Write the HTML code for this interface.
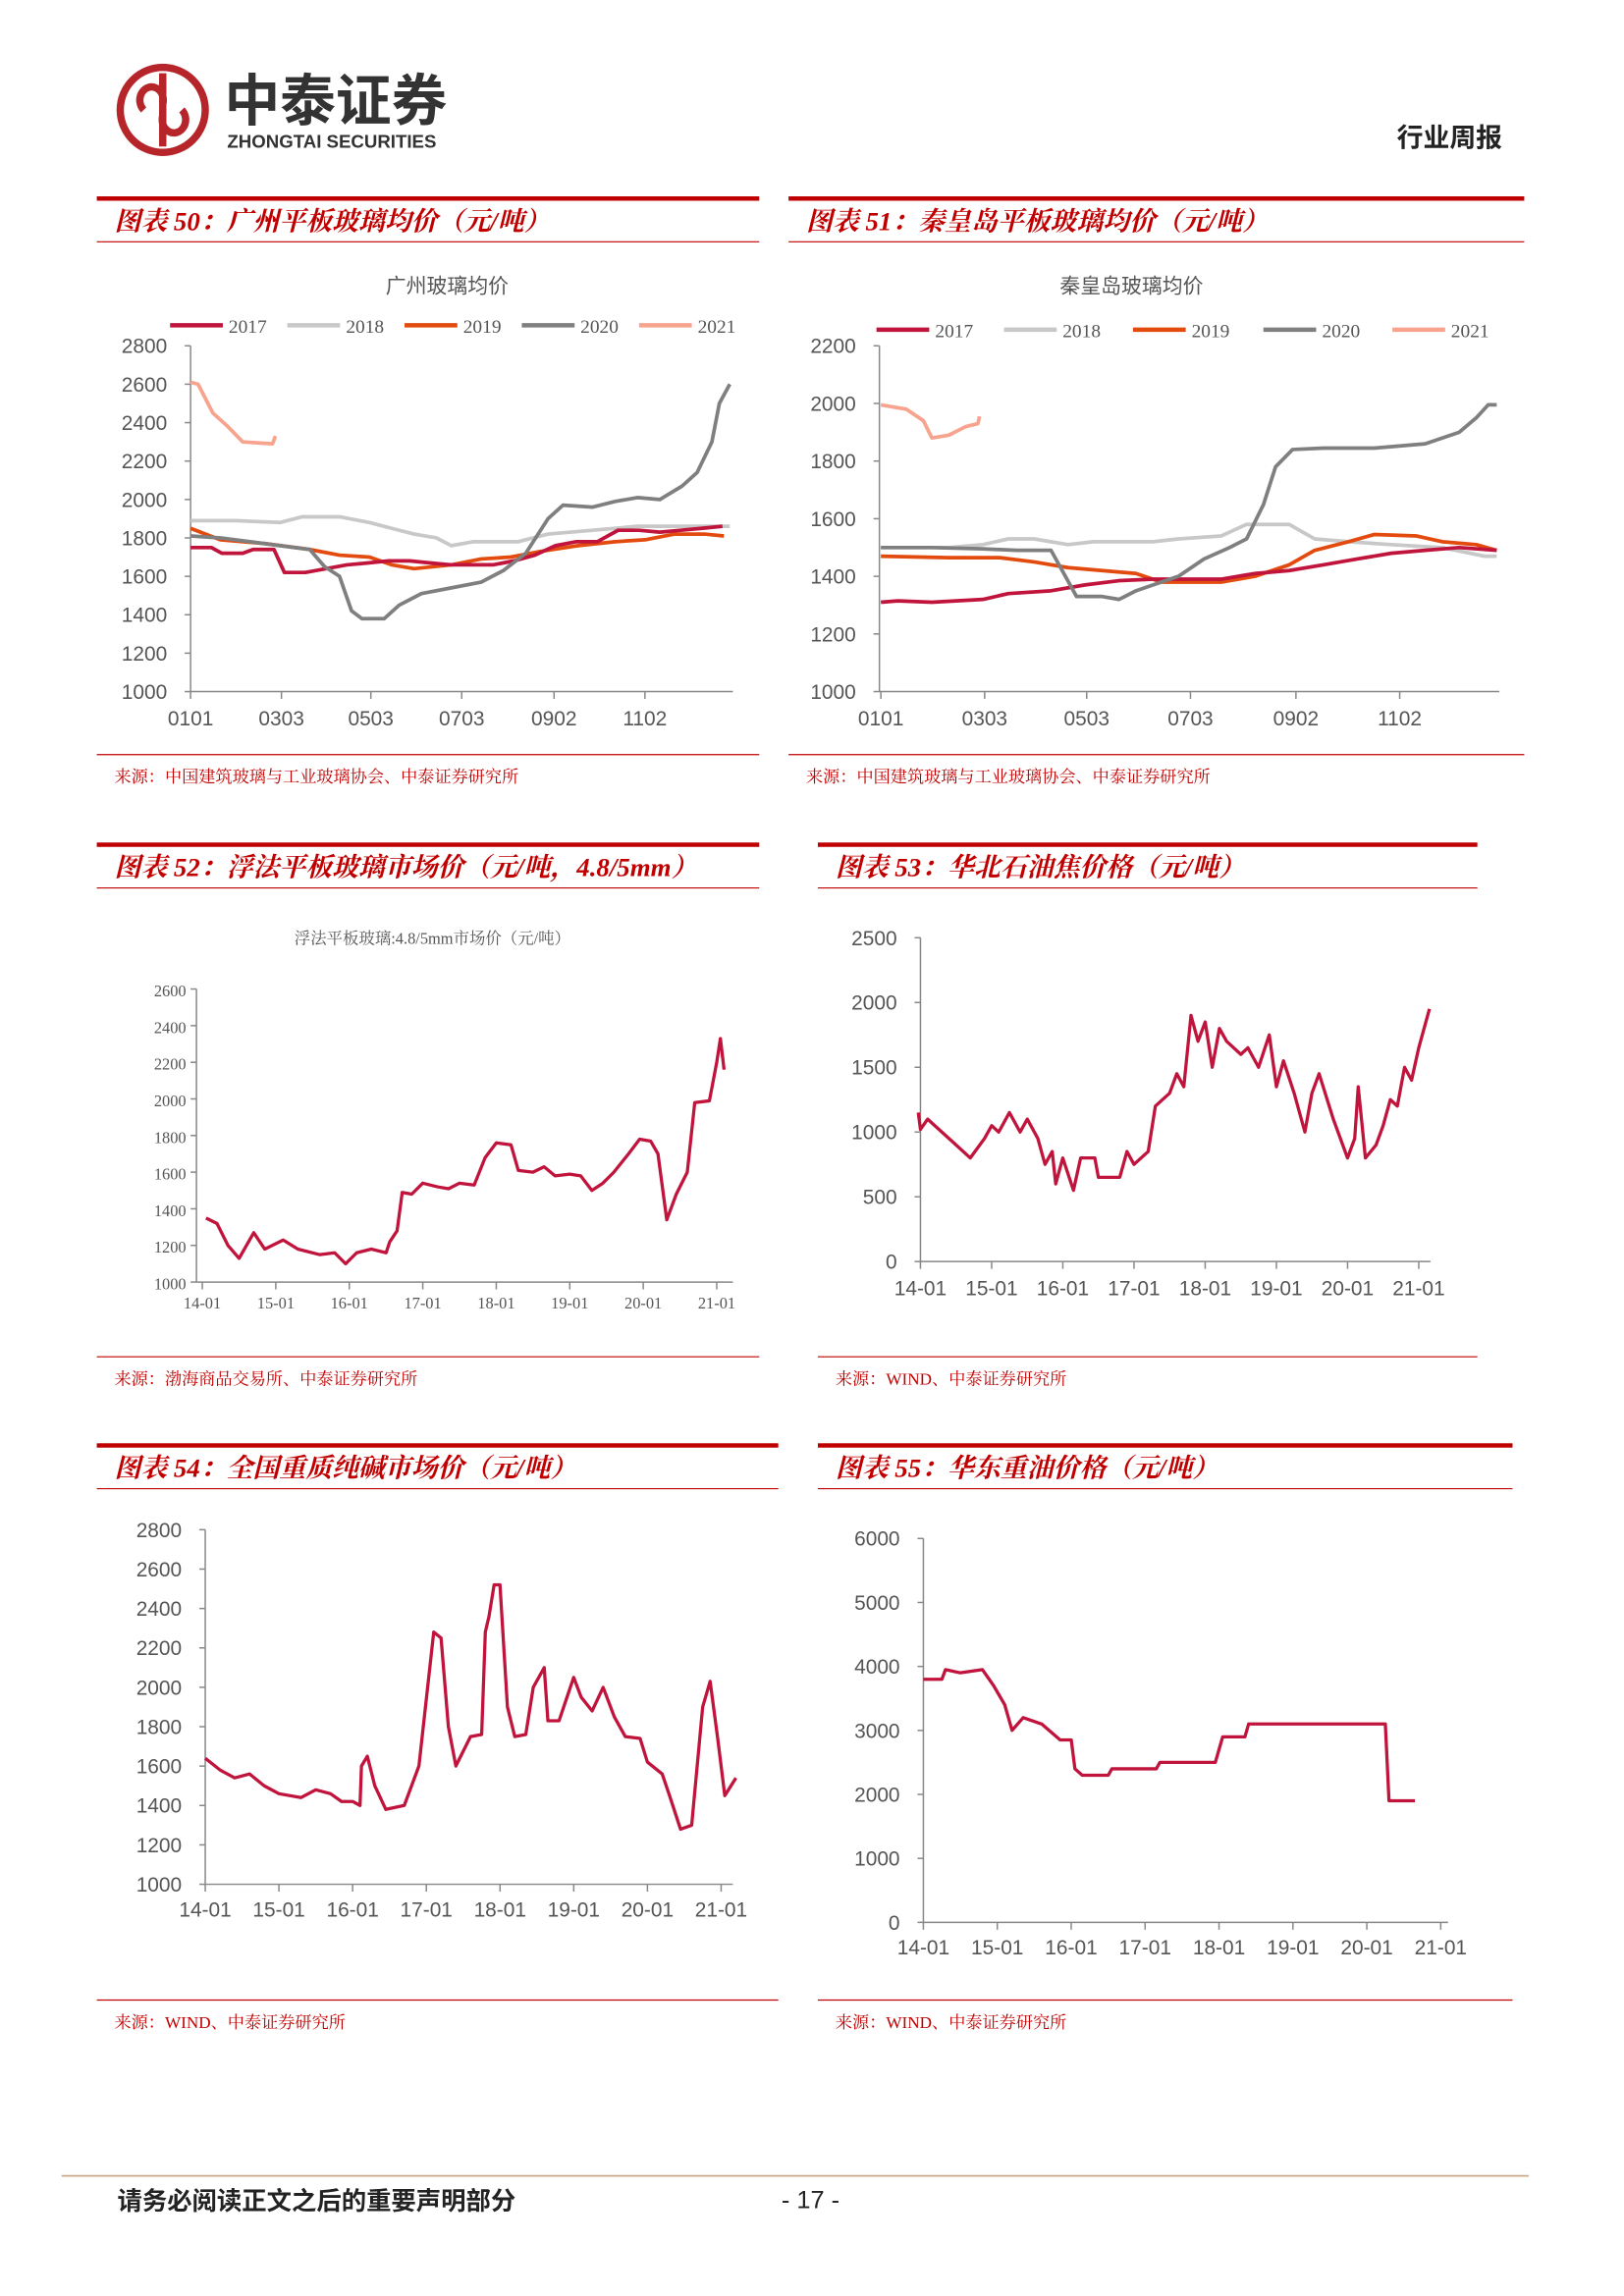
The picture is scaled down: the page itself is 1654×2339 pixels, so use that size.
<!DOCTYPE html>
<html><head><meta charset="utf-8"><style>
html,body{margin:0;padding:0;background:#fff}
svg{display:block}
text{font-family:"Liberation Sans","Noto Sans CJK SC",sans-serif}
.t{font-family:"Liberation Serif","Noto Serif CJK SC",serif;font-style:italic;font-weight:bold;fill:#c00000;font-size:18px}
.src{font-family:"Liberation Serif","Noto Serif CJK SC",serif;fill:#c00000;font-size:11.5px}
.tk{fill:#555;font-size:14px}
.tks{fill:#555;font-size:11px;font-family:"Liberation Serif","Noto Serif CJK SC",serif}
.lg{fill:#555;font-size:13px;font-family:"Liberation Serif","Noto Serif CJK SC",serif}
</style></head><body>
<svg id="page" width="1654" height="2339" viewBox="0 0 1108 1567" xmlns="http://www.w3.org/2000/svg">
<g>
<circle cx="111" cy="75" r="29" fill="none" stroke="#b5252a" stroke-width="5"/>
<path d="M111 50 V100 M98 75 a8 9 0 1 1 13 -4 M124 75 a8 9 0 1 1 -13 4" fill="none" stroke="#b5252a" stroke-width="5"/>
<text x="153" y="82" font-size="38" font-weight="bold" fill="#333">中泰证券</text>
<text x="155" y="101" font-size="12.5" font-weight="bold" fill="#333">ZHONGTAI SECURITIES</text>
</g>
<text x="1025" y="100" text-anchor="end" font-size="18" font-weight="bold" fill="#222">行业周报</text>
<g id="charts"></g>
<line x1="42" y1="1485" x2="1043" y2="1485" stroke="#c9a98a" stroke-width="1.2"/>
<text x="80" y="1508" font-size="17" font-weight="bold" fill="#222">请务必阅读正文之后的重要声明部分</text>
<text x="553" y="1507" font-size="17" fill="#222" text-anchor="middle">- 17 -</text>
</svg>
<script>
// ---- Chart 50 data (Guangzhou) ----
const gz17d=[0,14,21,35,42,56,63,77,91,105,119,133,147,161,175,189,203,217,231,245,259,273,287,301,315,329,343,357];
const gz17v=[1750,1750,1720,1720,1740,1740,1620,1620,1640,1660,1670,1680,1680,1670,1660,1660,1660,1680,1710,1760,1780,1780,1840,1840,1830,1840,1850,1860];
const gz18d=[0,30,60,75,100,120,135,150,165,175,190,220,240,270,300,330,362];
const gz18v=[1890,1890,1880,1910,1910,1880,1850,1820,1800,1760,1780,1780,1820,1840,1860,1860,1860];
const gz19d=[0,10,20,50,80,100,120,135,150,175,195,215,235,260,285,305,325,345,358];
const gz19v=[1850,1820,1790,1770,1740,1710,1700,1660,1640,1660,1690,1700,1730,1760,1780,1790,1820,1820,1810];
const gz20d=[0,20,40,60,80,90,100,108,115,130,140,155,175,195,210,225,240,250,270,285,300,315,330,340,350,355,362];
const gz20v=[1810,1800,1780,1760,1740,1650,1600,1420,1380,1380,1450,1510,1540,1570,1630,1720,1900,1970,1960,1990,2010,2000,2070,2140,2300,2500,2600];
const gz21d=[0,5,15,25,35,55,57];
const gz21v=[2610,2600,2450,2380,2300,2290,2330];
// ---- Chart 51 data (Qinhuangdao) ----
const qh17d=[0,10,30,60,75,100,120,140,160,180,200,220,240,260,280,300,320,340,362];
const qh17v=[1310,1315,1310,1320,1340,1350,1370,1385,1390,1390,1390,1410,1420,1440,1460,1480,1490,1500,1490];
const qh18d=[0,20,40,60,75,90,110,125,140,160,175,200,215,240,255,275,300,330,355,362];
const qh18v=[1500,1500,1500,1510,1530,1530,1510,1520,1520,1520,1530,1540,1580,1580,1530,1520,1510,1500,1470,1470];
const qh19d=[0,40,70,90,110,130,150,165,180,200,220,240,255,275,290,315,330,350,362];
const qh19v=[1470,1465,1465,1450,1430,1420,1410,1380,1380,1380,1400,1440,1490,1520,1545,1540,1520,1510,1490];
const qh20d=[0,30,60,80,100,115,130,140,150,160,175,190,205,215,225,232,242,260,290,320,340,350,357,362];
const qh20v=[1500,1500,1495,1490,1490,1330,1330,1320,1350,1370,1400,1460,1500,1530,1650,1780,1840,1845,1845,1860,1900,1950,1995,1995];
const qh21d=[0,5,15,25,30,40,50,57,58];
const qh21v=[1995,1990,1980,1940,1880,1890,1920,1930,1955];
// ---- Chart 52 (float glass) ----
const fgT=[2014.05,2014.2,2014.35,2014.5,2014.7,2014.85,2015.1,2015.3,2015.6,2015.8,2015.95,2016.1,2016.3,2016.5,2016.55,2016.65,2016.72,2016.85,2017.0,2017.2,2017.35,2017.5,2017.7,2017.85,2018.0,2018.2,2018.3,2018.5,2018.65,2018.8,2019.0,2019.15,2019.3,2019.45,2019.6,2019.8,2019.95,2020.1,2020.2,2020.32,2020.45,2020.6,2020.7,2020.9,2021.0,2021.05,2021.1];
const fgV=[1350,1320,1200,1130,1270,1180,1230,1180,1150,1160,1100,1160,1180,1160,1220,1280,1490,1480,1540,1520,1510,1540,1530,1680,1760,1750,1610,1600,1630,1580,1590,1580,1500,1540,1600,1700,1780,1770,1700,1340,1480,1600,1980,1990,2200,2330,2160];
// ---- Chart 53 (petroleum coke) ----
const pcT=[2013.97,2014.0,2014.1,2014.3,2014.5,2014.7,2014.9,2015.0,2015.1,2015.25,2015.4,2015.5,2015.65,2015.75,2015.85,2015.9,2016.0,2016.15,2016.25,2016.45,2016.5,2016.8,2016.9,2017.0,2017.2,2017.3,2017.5,2017.6,2017.7,2017.8,2017.9,2018.0,2018.1,2018.2,2018.3,2018.5,2018.6,2018.75,2018.9,2019.0,2019.1,2019.25,2019.4,2019.5,2019.6,2019.8,2020.0,2020.1,2020.15,2020.25,2020.4,2020.5,2020.6,2020.7,2020.8,2020.9,2021.0,2021.15];
const pcV=[1150,1020,1100,1000,900,800,950,1050,1000,1150,1000,1100,950,750,850,600,800,550,800,800,650,650,850,750,850,1200,1300,1450,1350,1900,1700,1850,1500,1800,1700,1600,1650,1500,1750,1350,1550,1300,1000,1300,1450,1100,800,950,1350,800,900,1050,1250,1200,1500,1400,1650,1950];
// ---- Chart 54 (soda ash) ----
const saT=[2014.0,2014.2,2014.4,2014.6,2014.8,2015.0,2015.3,2015.5,2015.7,2015.85,2016.0,2016.1,2016.12,2016.2,2016.3,2016.45,2016.7,2016.9,2017.1,2017.2,2017.3,2017.4,2017.6,2017.75,2017.8,2017.85,2017.92,2018.0,2018.1,2018.2,2018.35,2018.45,2018.6,2018.65,2018.8,2019.0,2019.1,2019.25,2019.4,2019.55,2019.7,2019.9,2020.0,2020.2,2020.3,2020.45,2020.6,2020.75,2020.85,2020.95,2021.05,2021.2];
const saV=[1640,1580,1540,1560,1500,1460,1440,1480,1460,1420,1420,1400,1600,1650,1500,1380,1400,1600,2280,2250,1800,1600,1750,1760,2280,2360,2520,2520,1900,1750,1760,2000,2100,1830,1830,2050,1950,1880,2000,1850,1750,1740,1620,1560,1450,1280,1300,1900,2030,1750,1450,1540];
// ---- Chart 55 (heavy oil) ----
const hoT=[2014.0,2014.25,2014.3,2014.5,2014.8,2014.95,2015.1,2015.2,2015.35,2015.6,2015.85,2016.0,2016.05,2016.15,2016.5,2016.55,2017.15,2017.2,2017.95,2018.05,2018.35,2018.4,2020.25,2020.3,2020.65];
const hoV=[3800,3800,3950,3900,3950,3700,3400,3000,3200,3100,2850,2850,2400,2300,2300,2400,2400,2500,2500,2900,2900,3100,3100,1900,1900];

const NS="http://www.w3.org/2000/svg";
const root=document.getElementById('charts');
function el(tag,attrs,parent,txt){const e=document.createElementNS(NS,tag);for(const k in attrs)e.setAttribute(k,attrs[k]);if(txt!==undefined)e.textContent=txt;(parent||root).appendChild(e);return e;}
function lin(d0,d1,r0,r1){return v=>r0+(v-d0)*(r1-r0)/(d1-d0);}

function panel(x0,x1,top,title,srcY,src,name){
  const g=el('g',{});
  
  
  el('rect',{x:x0,y:top,width:x1-x0,height:3,fill:'#c00000'},g);
  const t=el('text',{x:x0+12,y:top+23,class:'t'},g,title);
  
  
  el('line',{x1:x0,y1:top+31,x2:x1,y2:top+31,stroke:'#c00000','stroke-width':0.8},g);
  el('line',{x1:x0,y1:srcY,x2:x1,y2:srcY,stroke:'#c00000','stroke-width':0.8},g);
  const s=el('text',{x:x0+12,y:srcY+19,class:'src'},g,src);
  
  
  return g;
}
function axes(g,xL,xR,yT,yB,yTicks,ys,xTicks,xs,cls,labOff){
  el('line',{x1:xL,y1:yT,x2:xL,y2:yB,stroke:'#888','stroke-width':1},g);
  el('line',{x1:xL,y1:yB,x2:xR,y2:yB,stroke:'#888','stroke-width':1},g);
  yTicks.forEach(v=>{const y=ys(v);
    el('line',{x1:xL-4,y1:y,x2:xL,y2:y,stroke:'#888'},g);
    const t=el('text',{x:xL-(cls==='tks'?7:16),y:y+5,'text-anchor':'end',class:cls},g,String(v));
    
    });
  xTicks.forEach(v=>{const x=xs(v.v);
    el('line',{x1:x,y1:yB,x2:x,y2:yB+5,stroke:'#888'},g);
    const t=el('text',{x:x,y:yB+labOff,'text-anchor':'middle',class:cls},g,v.l);
    
    });
}
function series(g,xsArr,vsArr,xs,ys,color,w,name){
  const d=xsArr.map((x,i)=>(i?'L':'M')+xs(x).toFixed(1)+' '+ys(vsArr[i]).toFixed(1)).join(' ');
  const p=el('path',{d:d,fill:'none',stroke:color,'stroke-width':w,'stroke-linejoin':'round'},g);
  
  
}
function legend(g,y,items){
  items.forEach(it=>{
    el('line',{x1:it.x,y1:y,x2:it.x+36,y2:y,stroke:it.c,'stroke-width':3},g);
    const t=el('text',{x:it.x+40,y:y+5,class:'lg'},g,it.l);
    
    
  });
}
const C17='#c0143c',C18='#c8c8c8',C19='#e34a0e',C20='#7f7f7f',C21='#f8a38e',MAIN='#c0143c';
const dayTicks=[{v:0,l:'0101'},{v:61,l:'0303'},{v:121,l:'0503'},{v:182,l:'0703'},{v:244,l:'0902'},{v:305,l:'1102'}];

// Chart 50
{const g=panel(66,518,134,'图表 50：广州平板玻璃均价（元/吨）',515,'来源：中国建筑玻璃与工业玻璃协会、中泰证券研究所','chart-50');
 el('text',{x:305,y:200,'text-anchor':'middle','font-size':14,fill:'#555'},g,'广州玻璃均价');
 const xs=lin(0,305,130,440),ys=lin(1000,2800,472,236);
 axes(g,130,500,236,472,[1000,1200,1400,1600,1800,2000,2200,2400,2600,2800],ys,dayTicks,xs,'tk',23);
 series(g,gz18d,gz18v,xs,ys,C18,2.5,'line-2018');series(g,gz19d,gz19v,xs,ys,C19,2.5,'line-2019');
 series(g,gz17d,gz17v,xs,ys,C17,2.5,'line-2017');series(g,gz20d,gz20v,xs,ys,C20,2.5,'line-2020');series(g,gz21d,gz21v,xs,ys,C21,2.5,'line-2021');
 legend(g,222,[{x:116,c:C17,l:'2017'},{x:196,c:C18,l:'2018'},{x:276,c:C19,l:'2019'},{x:356,c:C20,l:'2020'},{x:436,c:C21,l:'2021'}]);}
// Chart 51
{const g=panel(538,1040,134,'图表 51：秦皇岛平板玻璃均价（元/吨）',515,'来源：中国建筑玻璃与工业玻璃协会、中泰证券研究所','chart-51');
 el('text',{x:772,y:200,'text-anchor':'middle','font-size':14,fill:'#555'},g,'秦皇岛玻璃均价');
 const xs=lin(0,305,601,955),ys=lin(1000,2200,472,236);
 axes(g,600,1023,236,472,[1000,1200,1400,1600,1800,2000,2200],ys,dayTicks,xs,'tk',23);
 series(g,qh18d,qh18v,xs,ys,C18,2.5,'line-2018');series(g,qh19d,qh19v,xs,ys,C19,2.5,'line-2019');
 series(g,qh17d,qh17v,xs,ys,C17,2.5,'line-2017');series(g,qh20d,qh20v,xs,ys,C20,2.5,'line-2020');series(g,qh21d,qh21v,xs,ys,C21,2.5,'line-2021');
 legend(g,225,[{x:598,c:C17,l:'2017'},{x:685,c:C18,l:'2018'},{x:773,c:C19,l:'2019'},{x:862,c:C20,l:'2020'},{x:950,c:C21,l:'2021'}]);}
const yrTicks=[14,15,16,17,18,19,20,21].map(y=>({v:2000+y,l:y+'-01'}));
// Chart 52
{const g=panel(66,518,575,'图表 52：浮法平板玻璃市场价（元/吨，4.8/5mm）',926,'来源：渤海商品交易所、中泰证券研究所','chart-52');
 el('text',{x:295,y:644,'text-anchor':'middle',class:'tks'},g,'浮法平板玻璃:4.8/5mm市场价（元/吨）');
 const xs=lin(2014,2021,138,489),ys=lin(1000,2600,875,675);
 axes(g,134,500,675,875,[1000,1200,1400,1600,1800,2000,2200,2400,2600],ys,yrTicks,xs,'tks',18);
 series(g,fgT,fgV,xs,ys,MAIN,2.2,'line-float-glass');}
// Chart 53
{const g=panel(558,1008,575,'图表 53：华北石油焦价格（元/吨）',926,'来源：WIND、中泰证券研究所','chart-53');
 const xs=lin(2014,2021,628,968),ys=lin(0,2500,861,640);
 axes(g,628,976,640,861,[0,500,1000,1500,2000,2500],ys,yrTicks,xs,'tk',23);
 series(g,pcT,pcV,xs,ys,MAIN,2.2,'line-petroleum-coke');}
// Chart 54
{const g=panel(66,531,985,'图表 54：全国重质纯碱市场价（元/吨）',1365,'来源：WIND、中泰证券研究所','chart-54');
 const xs=lin(2014,2021,140,492),ys=lin(1000,2800,1286,1044);
 axes(g,140,500,1044,1286,[1000,1200,1400,1600,1800,2000,2200,2400,2600,2800],ys,yrTicks,xs,'tk',22);
 series(g,saT,saV,xs,ys,MAIN,2.2,'line-soda-ash');}
// Chart 55
{const g=panel(558,1032,985,'图表 55：华东重油价格（元/吨）',1365,'来源：WIND、中泰证券研究所','chart-55');
 const xs=lin(2014,2021,630,983),ys=lin(0,6000,1312,1050);
 axes(g,630,988,1050,1312,[0,1000,2000,3000,4000,5000,6000],ys,yrTicks,xs,'tk',22);
 series(g,hoT,hoV,xs,ys,MAIN,2.2,'line-heavy-oil');}
</script>
</body></html>
